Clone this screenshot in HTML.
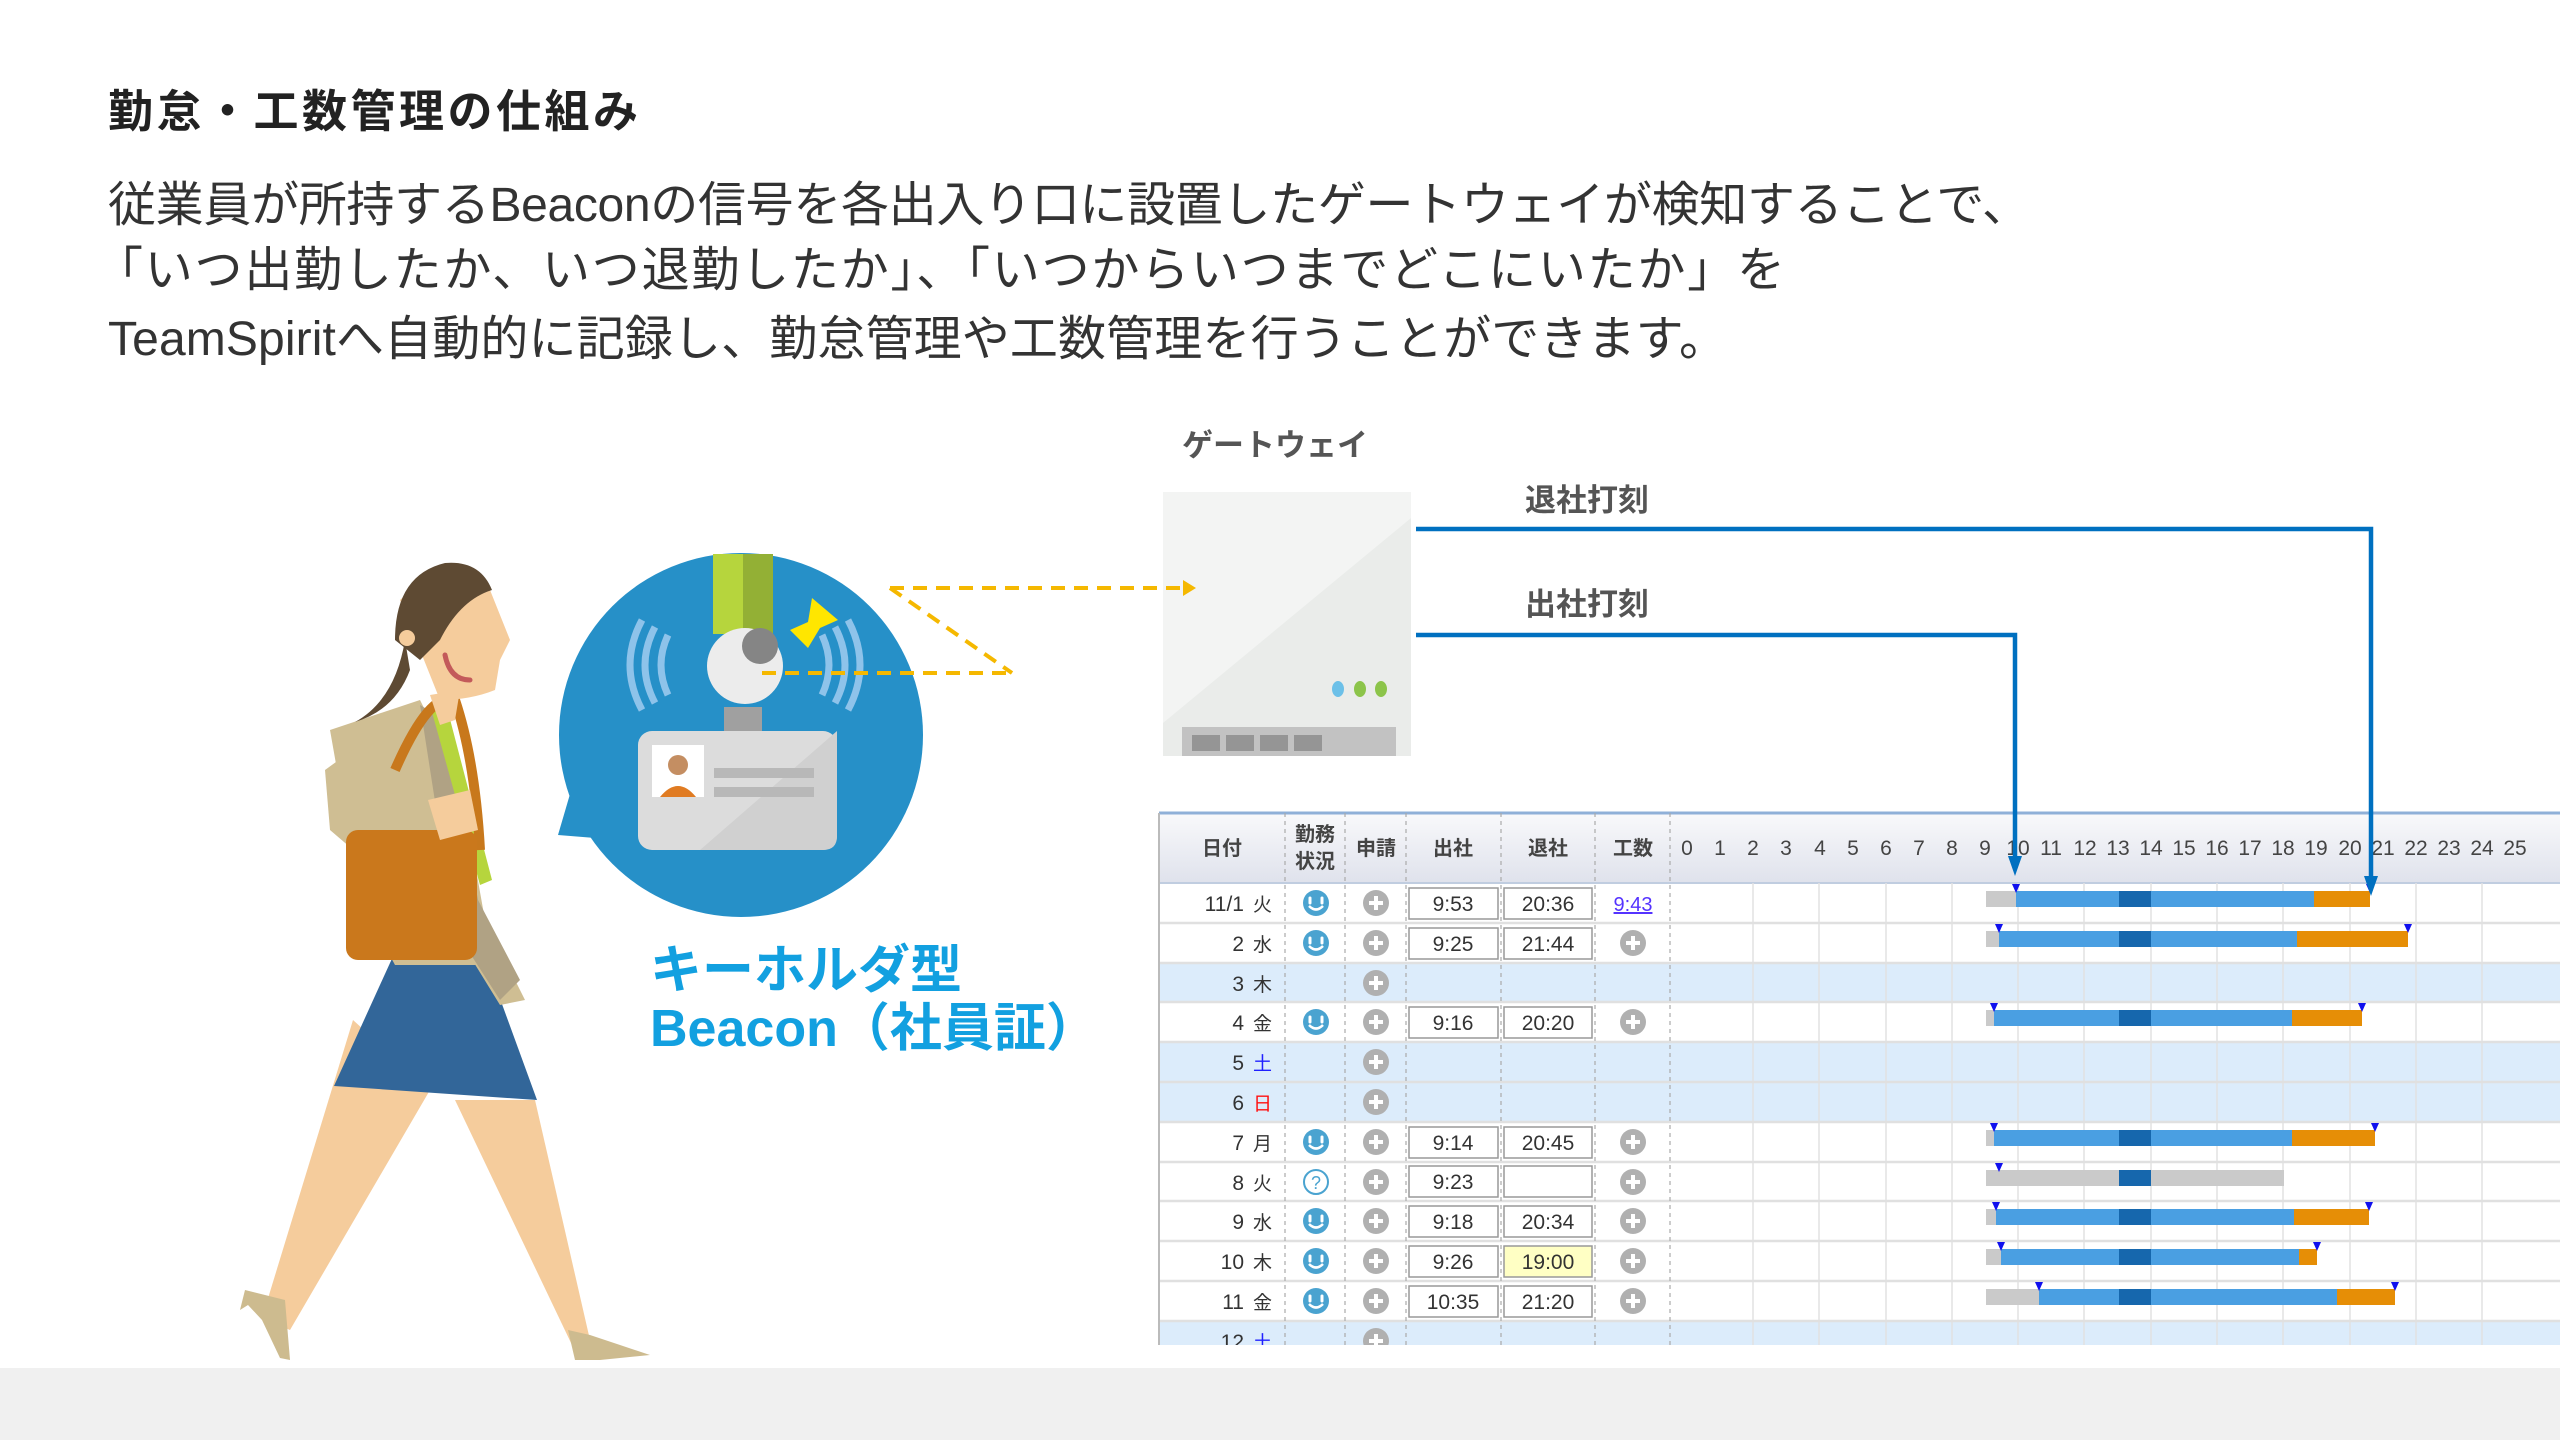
<!DOCTYPE html>
<html><head><meta charset="utf-8"><style>
html,body{margin:0;padding:0;background:#fff;}
svg{display:block;}
text{font-family:"Liberation Sans","Noto Sans CJK JP",sans-serif;}
</style></head><body>
<svg width="2560" height="1440" viewBox="0 0 2560 1440" xmlns="http://www.w3.org/2000/svg">
<defs>
<linearGradient id="hdr" x1="0" y1="0" x2="0" y2="1"><stop offset="0" stop-color="#f9f9fb"/><stop offset="1" stop-color="#dfe2ec"/></linearGradient>
<clipPath id="tclip"><rect x="1150" y="800" width="1410" height="545"/></clipPath>
<g id="face"><circle r="13" fill="#4aa3d0"/><path d="M-6,-5v5M6,-5v5" stroke="#fff" stroke-width="3" stroke-linecap="round"/><path d="M-7,3q7,7 14,0" stroke="#fff" stroke-width="2.5" fill="none"/></g>
<g id="plus"><circle r="13" fill="#b0b0b0"/><path d="M-7,0h14M0,-7v14" stroke="#fff" stroke-width="4"/></g>
<path id="pin" d="M-4,0h8l-4,9z"/>
</defs>
<rect x="0" y="1368" width="2560" height="72" fill="#f0f0f0"/>

<text x="108" y="127" font-size="45" font-weight="bold" fill="#222" textLength="530">勤怠・工数管理の仕組み</text>
<text x="108" y="221" font-size="48" fill="#333" textLength="1922">従業員が所持するBeaconの信号を各出入り口に設置したゲートウェイが検知することで、</text>
<text x="95" y="286" font-size="48" fill="#333" textLength="1690">「いつ出勤したか、いつ退勤したか」、「いつからいつまでどこにいたか」を</text>
<text x="108" y="355" font-size="48" fill="#333" textLength="1619">TeamSpiritへ自動的に記録し、勤怠管理や工数管理を行うことができます。</text>

<!-- woman -->
<g>
<path d="M353,1020 L430,1090 L290,1330 L262,1318 Z" fill="#f5cc9c"/>
<path d="M455,1100 L535,1100 L590,1340 L572,1345 Z" fill="#f5cc9c"/>
<path d="M245,1290 L285,1300 L290,1360 L280,1358 L262,1320 L248,1305 L240,1310 Z" fill="#cdbb8f"/>
<path d="M568,1330 L590,1335 L620,1345 L650,1355 L600,1360 L575,1360 Z" fill="#cdbb8f"/>
<path d="M395,952 L483,952 L537,1100 L334,1086 Z" fill="#326699"/>
<path d="M330,730 L420,700 L460,780 L485,920 L525,1000 L500,1005 L460,940 L478,965 L395,965 L360,900 Z" fill="#cfbe93"/>
<path d="M420,705 L445,720 L478,900 L520,980 L500,1000 L455,930 Z" fill="#b0a284"/>
<path d="M325,770 L380,730 L420,760 L430,830 L365,860 L330,830 Z" fill="#cfbe93"/>
<path d="M430,705 L445,700 L492,880 L480,885 Z" fill="#b6d53d"/>
<path d="M395,770 Q430,690 455,700 Q475,760 480,850" stroke="#c8781c" stroke-width="10" fill="none"/>
<rect x="346" y="830" width="131" height="130" rx="12" fill="#ca781c"/>
<path d="M428,800 L470,790 L478,830 L440,840 Z" fill="#f5cc9c"/>
<path d="M430,695 L460,690 L455,720 L440,725 Z" fill="#f5cc9c"/>
<path d="M400,600 Q440,560 490,590 L510,640 L500,660 L495,690 Q470,700 440,700 L420,650 Z" fill="#f5cc9c"/>
<path d="M395,640 Q395,575 445,563 Q480,560 492,590 Q460,600 440,640 L420,660 Z" fill="#5e4a33"/>
<path d="M405,640 Q395,700 355,722 Q395,710 410,670 Z" fill="#5e4a33"/>
<circle cx="407" cy="638" r="8" fill="#f5cc9c"/>
<path d="M445,655 Q450,680 470,680" stroke="#c35a5a" stroke-width="5" fill="none" stroke-linecap="round"/>
</g>

<!-- bubble -->
<circle cx="741" cy="735" r="182" fill="#2690c8"/>
<path d="M580,760 L558,835 L620,840 Z" fill="#2690c8"/>
<rect x="713" y="554" width="30" height="80" fill="#b6d53d"/>
<rect x="743" y="554" width="30" height="80" fill="#93b035"/>
<rect x="724" y="707" width="38" height="32" fill="#a0a0a0"/>
<circle cx="745" cy="666" r="38" fill="#ececec"/>
<circle cx="760" cy="646" r="18" fill="#858585"/>
<path d="M812,598 L838,620 L820,628 L808,648 L790,630 L808,622 Z" fill="#ffe600"/>
<g fill="none" stroke="#8ec3ea" stroke-width="7">
<path d="M668,635 q-14,30 0,60"/><path d="M655,627 q-20,38 0,76"/><path d="M642,620 q-24,45 0,90"/>
<path d="M822,635 q14,30 0,60"/><path d="M835,627 q20,38 0,76"/><path d="M848,620 q24,45 0,90"/>
</g>
<rect x="638" y="731" width="199" height="119" rx="14" fill="#dcdcdc"/>
<path d="M700,850 L837,731 L837,836 Q837,850 823,850 Z" fill="#d0d0d0"/>
<rect x="652" y="745" width="52" height="52" fill="#fff"/>
<circle cx="678" cy="765" r="10" fill="#c48e62"/>
<path d="M660,797 q18,-22 36,0 z" fill="#e07b22"/>
<rect x="714" y="768" width="100" height="10" fill="#b8b8b8"/>
<rect x="714" y="787" width="100" height="10" fill="#b8b8b8"/>
<text x="650" y="988" font-size="52" font-weight="bold" fill="#12a0e0">キーホルダ型</text>
<text x="650" y="1046" font-size="52" font-weight="bold" fill="#12a0e0">Beacon（社員証）</text>

<!-- gateway -->
<text x="1182" y="456" font-size="31" font-weight="bold" fill="#555">ゲートウェイ</text>
<rect x="1163" y="492" width="248" height="264" fill="#eaecea"/>
<path d="M1163,492 H1411 V518 L1163,723 Z" fill="#f3f4f3"/>
<rect x="1182" y="727" width="214" height="29" fill="#c2c2c2"/>
<g fill="#959595"><rect x="1192" y="735" width="28" height="16"/><rect x="1226" y="735" width="28" height="16"/><rect x="1260" y="735" width="28" height="16"/><rect x="1294" y="735" width="28" height="16"/></g>
<ellipse cx="1338" cy="689" rx="6" ry="8" fill="#6cc0e8"/><ellipse cx="1360" cy="689" rx="6" ry="8" fill="#8cc44a"/><ellipse cx="1381" cy="689" rx="6" ry="8" fill="#8cc44a"/>

<g stroke="#f5b800" stroke-width="4" stroke-dasharray="14,9" fill="none">
<path d="M890,588 H1185"/><path d="M890,588 L1012,673"/><path d="M762,673 H1012"/>
</g>
<path d="M1183,580 L1196,588 L1183,596 Z" fill="#f5b800"/>

<text x="1525" y="511" font-size="31" font-weight="bold" fill="#555">退社打刻</text>
<text x="1525" y="615" font-size="31" font-weight="bold" fill="#555">出社打刻</text>

<!-- table -->
<g clip-path="url(#tclip)">
<rect x="1159" y="813" width="1401" height="70" fill="url(#hdr)"/>
<path d="M1159,813 H2560" stroke="#8fb0d8" stroke-width="3"/>
<path d="M1159,883 H2560" stroke="#c0cde0" stroke-width="2"/>
<g fill="#dcecfb">
<rect x="1159" y="963" width="1401" height="40"/>
<rect x="1159" y="1042" width="1401" height="80"/>
<rect x="1159" y="1321" width="1401" height="40"/>
</g>
<g stroke="#e2e2e2" stroke-width="1.5">
<path d="M1753,883V1345M1819,883V1345M1886,883V1345M1952,883V1345M2018,883V1345M2084,883V1345M2151,883V1345M2217,883V1345M2283,883V1345M2350,883V1345M2416,883V1345M2482,883V1345"/>
</g>
<g stroke="#e0e0e0" stroke-width="2.5">
<path d="M1159,923H2560M1159,963H2560M1159,1002H2560M1159,1042H2560M1159,1082H2560M1159,1122H2560M1159,1162H2560M1159,1201H2560M1159,1241H2560M1159,1281H2560M1159,1321H2560"/>
</g>
<path d="M1159,813V1345" stroke="#bbb" stroke-width="2"/>
<g stroke="#aaa" stroke-width="1.2" stroke-dasharray="4,4">
<path d="M1285,813V1345M1345,813V1345M1406,813V1345M1501,813V1345M1595,813V1345M1670,813V1345"/>
</g>
<g font-size="20" font-weight="bold" fill="#444" text-anchor="middle">
<text x="1222" y="855">日付</text>
<text x="1315" y="841">勤務</text><text x="1315" y="868">状況</text>
<text x="1376" y="855">申請</text>
<text x="1453" y="855">出社</text>
<text x="1548" y="855">退社</text>
<text x="1633" y="855">工数</text>
</g>
<g font-size="21" fill="#444" text-anchor="middle">
<text x="1687" y="855">0</text><text x="1720" y="855">1</text><text x="1753" y="855">2</text><text x="1786" y="855">3</text><text x="1820" y="855">4</text><text x="1853" y="855">5</text><text x="1886" y="855">6</text><text x="1919" y="855">7</text><text x="1952" y="855">8</text><text x="1985" y="855">9</text><text x="2018" y="855">10</text><text x="2051" y="855">11</text><text x="2085" y="855">12</text><text x="2118" y="855">13</text><text x="2151" y="855">14</text><text x="2184" y="855">15</text><text x="2217" y="855">16</text><text x="2250" y="855">17</text><text x="2283" y="855">18</text><text x="2316" y="855">19</text><text x="2350" y="855">20</text><text x="2383" y="855">21</text><text x="2416" y="855">22</text><text x="2449" y="855">23</text><text x="2482" y="855">24</text><text x="2515" y="855">25</text>
</g>
<g font-size="21" fill="#333" text-anchor="end">
<text x="1244" y="911">11/1</text><text x="1244" y="951">2</text><text x="1244" y="991">3</text><text x="1244" y="1030">4</text><text x="1244" y="1070">5</text><text x="1244" y="1110">6</text><text x="1244" y="1150">7</text><text x="1244" y="1190">8</text><text x="1244" y="1229">9</text><text x="1244" y="1269">10</text><text x="1244" y="1309">11</text><text x="1244" y="1349">12</text>
</g>
<g font-size="19" fill="#333">
<text x="1253" y="911">火</text><text x="1253" y="951">水</text><text x="1253" y="991">木</text><text x="1253" y="1030">金</text><text x="1253" y="1070" fill="#2020ff">土</text><text x="1253" y="1110" fill="#ff1010">日</text><text x="1253" y="1150">月</text><text x="1253" y="1190">火</text><text x="1253" y="1229">水</text><text x="1253" y="1269">木</text><text x="1253" y="1309">金</text><text x="1253" y="1349" fill="#2020ff">土</text>
</g>
<use href="#face" x="1316" y="903"/><use href="#face" x="1316" y="943"/><use href="#face" x="1316" y="1022"/><use href="#face" x="1316" y="1142"/>
<g><circle cx="1316" cy="1182" r="12" fill="#fff" stroke="#4aa3d0" stroke-width="2"/><text x="1316" y="1189" font-size="18" fill="#4aa3d0" text-anchor="middle">?</text></g>
<use href="#face" x="1316" y="1221"/><use href="#face" x="1316" y="1261"/><use href="#face" x="1316" y="1301"/>
<use href="#plus" x="1376" y="903"/><use href="#plus" x="1376" y="943"/><use href="#plus" x="1376" y="983"/><use href="#plus" x="1376" y="1022"/><use href="#plus" x="1376" y="1062"/><use href="#plus" x="1376" y="1102"/><use href="#plus" x="1376" y="1142"/><use href="#plus" x="1376" y="1182"/><use href="#plus" x="1376" y="1221"/><use href="#plus" x="1376" y="1261"/><use href="#plus" x="1376" y="1301"/><use href="#plus" x="1376" y="1341"/>
<use href="#plus" x="1633" y="943"/><use href="#plus" x="1633" y="1022"/><use href="#plus" x="1633" y="1142"/><use href="#plus" x="1633" y="1182"/><use href="#plus" x="1633" y="1221"/><use href="#plus" x="1633" y="1261"/><use href="#plus" x="1633" y="1301"/>
<text x="1633" y="911" font-size="20" fill="#5533ff" text-anchor="middle" text-decoration="underline">9:43</text>
<g fill="#fff" stroke="#999" stroke-width="1.5">
<rect x="1409" y="888" width="89" height="31"/><rect x="1504" y="888" width="88" height="31"/>
<rect x="1409" y="928" width="89" height="31"/><rect x="1504" y="928" width="88" height="31"/>
<rect x="1409" y="1007" width="89" height="31"/><rect x="1504" y="1007" width="88" height="31"/>
<rect x="1409" y="1127" width="89" height="31"/><rect x="1504" y="1127" width="88" height="31"/>
<rect x="1409" y="1166" width="89" height="31"/><rect x="1504" y="1166" width="88" height="31"/>
<rect x="1409" y="1206" width="89" height="31"/><rect x="1504" y="1206" width="88" height="31"/>
<rect x="1409" y="1246" width="89" height="31"/><rect x="1504" y="1246" width="88" height="31" fill="#ffffc4"/>
<rect x="1409" y="1286" width="89" height="31"/><rect x="1504" y="1286" width="88" height="31"/>
</g>
<g font-size="21" fill="#333" text-anchor="middle">
<text x="1453" y="911">9:53</text><text x="1548" y="911">20:36</text>
<text x="1453" y="951">9:25</text><text x="1548" y="951">21:44</text>
<text x="1453" y="1030">9:16</text><text x="1548" y="1030">20:20</text>
<text x="1453" y="1150">9:14</text><text x="1548" y="1150">20:45</text>
<text x="1453" y="1189">9:23</text>
<text x="1453" y="1229">9:18</text><text x="1548" y="1229">20:34</text>
<text x="1453" y="1269">9:26</text><text x="1548" y="1269">19:00</text>
<text x="1453" y="1309">10:35</text><text x="1548" y="1309">21:20</text>
</g>
<g>
<rect x="1986" y="891" width="384" height="16" fill="#cacaca"/><rect x="2016" y="891" width="298" height="16" fill="#4a9fe2"/><rect x="2119" y="891" width="32" height="16" fill="#1667ad"/><rect x="2314" y="891" width="56" height="16" fill="#e68e06"/>
<rect x="1986" y="931" width="422" height="16" fill="#cacaca"/><rect x="1999" y="931" width="298" height="16" fill="#4a9fe2"/><rect x="2119" y="931" width="32" height="16" fill="#1667ad"/><rect x="2297" y="931" width="111" height="16" fill="#e68e06"/>
<rect x="1986" y="1010" width="376" height="16" fill="#cacaca"/><rect x="1994" y="1010" width="298" height="16" fill="#4a9fe2"/><rect x="2119" y="1010" width="32" height="16" fill="#1667ad"/><rect x="2292" y="1010" width="70" height="16" fill="#e68e06"/>
<rect x="1986" y="1130" width="389" height="16" fill="#cacaca"/><rect x="1994" y="1130" width="298" height="16" fill="#4a9fe2"/><rect x="2119" y="1130" width="32" height="16" fill="#1667ad"/><rect x="2292" y="1130" width="83" height="16" fill="#e68e06"/>
<rect x="1986" y="1170" width="298" height="16" fill="#cacaca"/><rect x="2119" y="1170" width="32" height="16" fill="#1667ad"/>
<rect x="1986" y="1209" width="383" height="16" fill="#cacaca"/><rect x="1996" y="1209" width="298" height="16" fill="#4a9fe2"/><rect x="2119" y="1209" width="32" height="16" fill="#1667ad"/><rect x="2294" y="1209" width="75" height="16" fill="#e68e06"/>
<rect x="1986" y="1249" width="331" height="16" fill="#cacaca"/><rect x="2001" y="1249" width="298" height="16" fill="#4a9fe2"/><rect x="2119" y="1249" width="32" height="16" fill="#1667ad"/><rect x="2299" y="1249" width="18" height="16" fill="#e68e06"/>
<rect x="1986" y="1289" width="409" height="16" fill="#cacaca"/><rect x="2039" y="1289" width="298" height="16" fill="#4a9fe2"/><rect x="2119" y="1289" width="32" height="16" fill="#1667ad"/><rect x="2337" y="1289" width="58" height="16" fill="#e68e06"/>
</g>
<g fill="#1010ee">
<use href="#pin" x="2016" y="884"/><use href="#pin" x="2370" y="884"/>
<use href="#pin" x="1999" y="924"/><use href="#pin" x="2408" y="924"/>
<use href="#pin" x="1994" y="1003"/><use href="#pin" x="2362" y="1003"/>
<use href="#pin" x="1994" y="1123"/><use href="#pin" x="2375" y="1123"/>
<use href="#pin" x="1999" y="1163"/>
<use href="#pin" x="1996" y="1202"/><use href="#pin" x="2369" y="1202"/>
<use href="#pin" x="2001" y="1242"/><use href="#pin" x="2317" y="1242"/>
<use href="#pin" x="2039" y="1282"/><use href="#pin" x="2395" y="1282"/>
</g>
</g>

<!-- connectors on top -->
<path d="M1416,529 H2371 V878" stroke="#0070c0" stroke-width="4.5" fill="none"/>
<path d="M1416,635 H2015 V858" stroke="#0070c0" stroke-width="4.5" fill="none"/>
<path d="M2008,856 L2015,876 L2022,856 Z" fill="#0070c0"/>
<path d="M2364,876 L2371,896 L2378,876 Z" fill="#0070c0"/>
</svg>
</body></html>
